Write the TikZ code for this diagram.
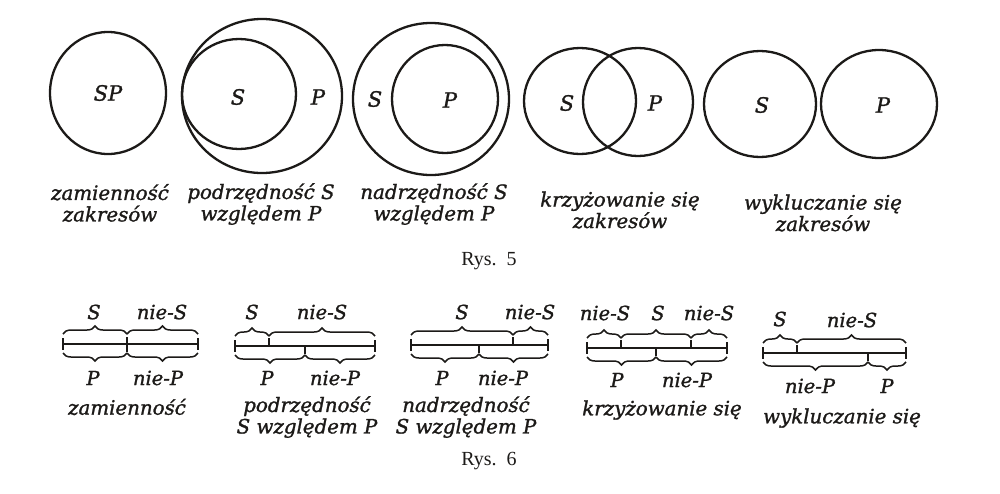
\documentclass[tikz,border=0pt]{standalone}
\usepackage{fontspec}
\setmainfont{DejaVu Serif}[ItalicFeatures={FakeBold=1.3}]
\newfontfamily\rysfont{Liberation Serif}
\usetikzlibrary{decorations.pathreplacing}
\definecolor{ink}{HTML}{1C1A18}
\begin{document}
\begin{tikzpicture}[x=1pt,y=-1pt,
  ink, line width=2pt,
  ring/.style={draw=ink, line width=2.3pt},
  lbl/.style={font=\fontsize{21}{24}\selectfont\itshape, inner sep=0pt, text=ink},
  capt/.style={font=\fontsize{19.8}{21.5}\selectfont\itshape, align=center, inner sep=0pt, text=ink},
  blbl/.style={font=\fontsize{19.5}{21}\selectfont\itshape, inner sep=0pt, text=ink},
  rys/.style={font=\rysfont\fontsize{20}{23}\selectfont, inner sep=0pt, text=ink},
  seg/.style={draw=ink, line width=2.2pt},
  tick/.style={draw=ink, line width=1.6pt},
  brc/.style={draw=ink, decorate, decoration={brace, amplitude=8pt}, line width=1.5pt},
  brcd/.style={draw=ink, decorate, decoration={brace, amplitude=8pt, mirror}, line width=1.5pt}]
\useasboundingbox[fill=white] (0,0) rectangle (1000,493);

% ---------------- Rys. 5 ----------------
% zamiennosc
\draw[ring] (108,93) ellipse [x radius=58pt, y radius=61pt];
\node[lbl] (sp) at (108,93) {SP};
% podrzednosc
\draw[ring] (262,96) ellipse [x radius=80pt, y radius=77pt];
\draw[ring] (239,94) ellipse [x radius=57pt, y radius=55pt];
\node[lbl] (s2) at (238,97) {S};
\node[lbl] (p2) at (318,97) {P};
% nadrzednosc
\draw[ring] (431,99) ellipse [x radius=78pt, y radius=76pt];
\draw[ring] (445,99) ellipse [x radius=53pt, y radius=54pt];
\node[lbl] (s3) at (375,99) {S};
\node[lbl] (p3) at (450,100) {P};
% krzyzowanie
\draw[ring] (580,101) ellipse [x radius=56pt, y radius=53pt];
\draw[ring] (638,102) ellipse [x radius=55pt, y radius=54pt];
\node[lbl] (s4) at (567,103) {S};
\node[lbl] (p4) at (655,103) {P};
% wykluczanie
\draw[ring] (760,104) ellipse [x radius=56pt, y radius=53pt];
\draw[ring] (879,104) ellipse [x radius=58pt, y radius=54pt];
\node[lbl] (s5) at (762,105) {S};
\node[lbl] (p5) at (883,105) {P};

\node[capt] (cap1) at (110,203) {zamienność\\zakresów};
\node[capt] (cap2) at (261,204) {podrzędność S\\względem P};
\node[capt] (cap3) at (434,204) {nadrzędność S\\względem P};
\node[capt] (cap4) at (620,210) {krzyżowanie się\\zakresów};
\node[capt] (cap5) at (823,213) {wykluczanie się\\zakresów};

\node[rys] (rys5) at (489,261) {Rys.\ \ 5};

% ---------------- Rys. 6 ----------------
% 1: zamiennosc
\coordinate (a1) at (63,344);
\coordinate (m1) at (127,344);
\coordinate (b1) at (198,344);
\draw[seg] (a1) -- (b1);
\draw[tick] ([yshift=6pt]a1) -- ([yshift=-6pt]a1);
\draw[tick] ([yshift=6pt]b1) -- ([yshift=-6pt]b1);
\draw[tick] ([yshift=7pt]m1) -- ([yshift=-8pt]m1);
\draw[brc] ([yshift=10pt]a1) -- ([yshift=10pt]m1);
\draw[brc] ([yshift=10pt]m1) -- ([yshift=10pt]b1);
\draw[brcd] ([yshift=-9pt]a1) -- ([yshift=-9pt]m1);
\draw[brcd] ([yshift=-9pt]m1) -- ([yshift=-9pt]b1);
\node[blbl] (t1s) at (94,312) {S};
\node[blbl] (t1n) at (162,312) {nie-S};
\node[blbl] (u1p) at (93,378) {P};
\node[blbl] (u1n) at (158,378) {nie-P};
\node[capt] (c1) at (127,407) {zamienność};

% 2: podrzednosc
\coordinate (a2) at (235,346);
\coordinate (up2) at (269,346);
\coordinate (dn2) at (305,346);
\coordinate (b2) at (375,346);
\draw[seg] (a2) -- (b2);
\draw[tick] ([yshift=6pt]a2) -- ([yshift=-6pt]a2);
\draw[tick] ([yshift=6pt]b2) -- ([yshift=-6pt]b2);
\draw[tick] (up2) -- ([yshift=8pt]up2);
\draw[tick] (dn2) -- ([yshift=-8pt]dn2);
\draw[brc] ([yshift=10pt]a2) -- ([yshift=10pt]up2);
\draw[brc] ([yshift=10pt]up2) -- ([yshift=10pt]b2);
\draw[brcd] ([yshift=-9pt]a2) -- ([yshift=-9pt]dn2);
\draw[brcd] ([yshift=-9pt]dn2) -- ([yshift=-9pt]b2);
\node[blbl] (t2s) at (252,312) {S};
\node[blbl] (t2n) at (322,312) {nie-S};
\node[blbl] (u2p) at (267,378) {P};
\node[blbl] (u2n) at (335,378) {nie-P};
\node[capt] (c2) at (307,417) {podrzędność\\S względem P};

% 3: nadrzednosc
\coordinate (a3) at (411,345);
\coordinate (dn3) at (479,345);
\coordinate (up3) at (513,345);
\coordinate (b3) at (548,345);
\draw[seg] (a3) -- (b3);
\draw[tick] ([yshift=6pt]a3) -- ([yshift=-6pt]a3);
\draw[tick] ([yshift=6pt]b3) -- ([yshift=-6pt]b3);
\draw[tick] (up3) -- ([yshift=8pt]up3);
\draw[tick] (dn3) -- ([yshift=-8pt]dn3);
\draw[brc] ([yshift=10pt]a3) -- ([yshift=10pt]up3);
\draw[brc] ([yshift=10pt]up3) -- ([yshift=10pt]b3);
\draw[brcd] ([yshift=-9pt]a3) -- ([yshift=-9pt]dn3);
\draw[brcd] ([yshift=-9pt]dn3) -- ([yshift=-9pt]b3);
\node[blbl] (t3s) at (462,312) {S};
\node[blbl] (t3n) at (530,312) {nie-S};
\node[blbl] (u3p) at (442,378) {P};
\node[blbl] (u3n) at (503,378) {nie-P};
\node[capt] (c3) at (466,417) {nadrzędność\\S względem P};

% 4: krzyzowanie
\coordinate (a4) at (587,348);
\coordinate (upa4) at (621,348);
\coordinate (dn4) at (656,348);
\coordinate (upb4) at (691,348);
\coordinate (b4) at (727,348);
\draw[seg] (a4) -- (b4);
\draw[tick] ([yshift=6pt]a4) -- ([yshift=-6pt]a4);
\draw[tick] ([yshift=6pt]b4) -- ([yshift=-6pt]b4);
\draw[tick] (upa4) -- ([yshift=8pt]upa4);
\draw[tick] (upb4) -- ([yshift=8pt]upb4);
\draw[tick] (dn4) -- ([yshift=-8pt]dn4);
\draw[brc] ([yshift=10pt]a4) -- ([yshift=10pt]upa4);
\draw[brc] ([yshift=10pt]upa4) -- ([yshift=10pt]upb4);
\draw[brc] ([yshift=10pt]upb4) -- ([yshift=10pt]b4);
\draw[brcd] ([yshift=-9pt]a4) -- ([yshift=-9pt]dn4);
\draw[brcd] ([yshift=-9pt]dn4) -- ([yshift=-9pt]b4);
\node[blbl] (t4a) at (605,313) {nie-S};
\node[blbl] (t4s) at (658,313) {S};
\node[blbl] (t4b) at (709,313) {nie-S};
\node[blbl] (u4p) at (617,380) {P};
\node[blbl] (u4n) at (687,380) {nie-P};
\node[capt] (c4) at (662,410) {krzyżowanie się};

% 5: wykluczanie
\coordinate (a5) at (763,353);
\coordinate (up5) at (797,353);
\coordinate (dn5) at (868,353);
\coordinate (b5) at (906,353);
\draw[seg] (a5) -- (b5);
\draw[tick] ([yshift=6pt]a5) -- ([yshift=-6pt]a5);
\draw[tick] ([yshift=6pt]b5) -- ([yshift=-6pt]b5);
\draw[tick] (up5) -- ([yshift=8pt]up5);
\draw[tick] (dn5) -- ([yshift=-8pt]dn5);
\draw[brc] ([yshift=10pt]a5) -- ([yshift=10pt]up5);
\draw[brc] ([yshift=10pt]up5) -- ([yshift=10pt]b5);
\draw[brcd] ([yshift=-9pt]a5) -- ([yshift=-9pt]dn5);
\draw[brcd] ([yshift=-9pt]dn5) -- ([yshift=-9pt]b5);
\node[blbl] (t5s) at (780,319) {S};
\node[blbl] (t5n) at (852,320) {nie-S};
\node[blbl] (u5n) at (810,386) {nie-P};
\node[blbl] (u5p) at (887,386) {P};
\node[capt] (c5) at (842,418) {wykluczanie się};

\node[rys] (rys6) at (489,461) {Rys.\ \ 6};
\end{tikzpicture}
\end{document}
